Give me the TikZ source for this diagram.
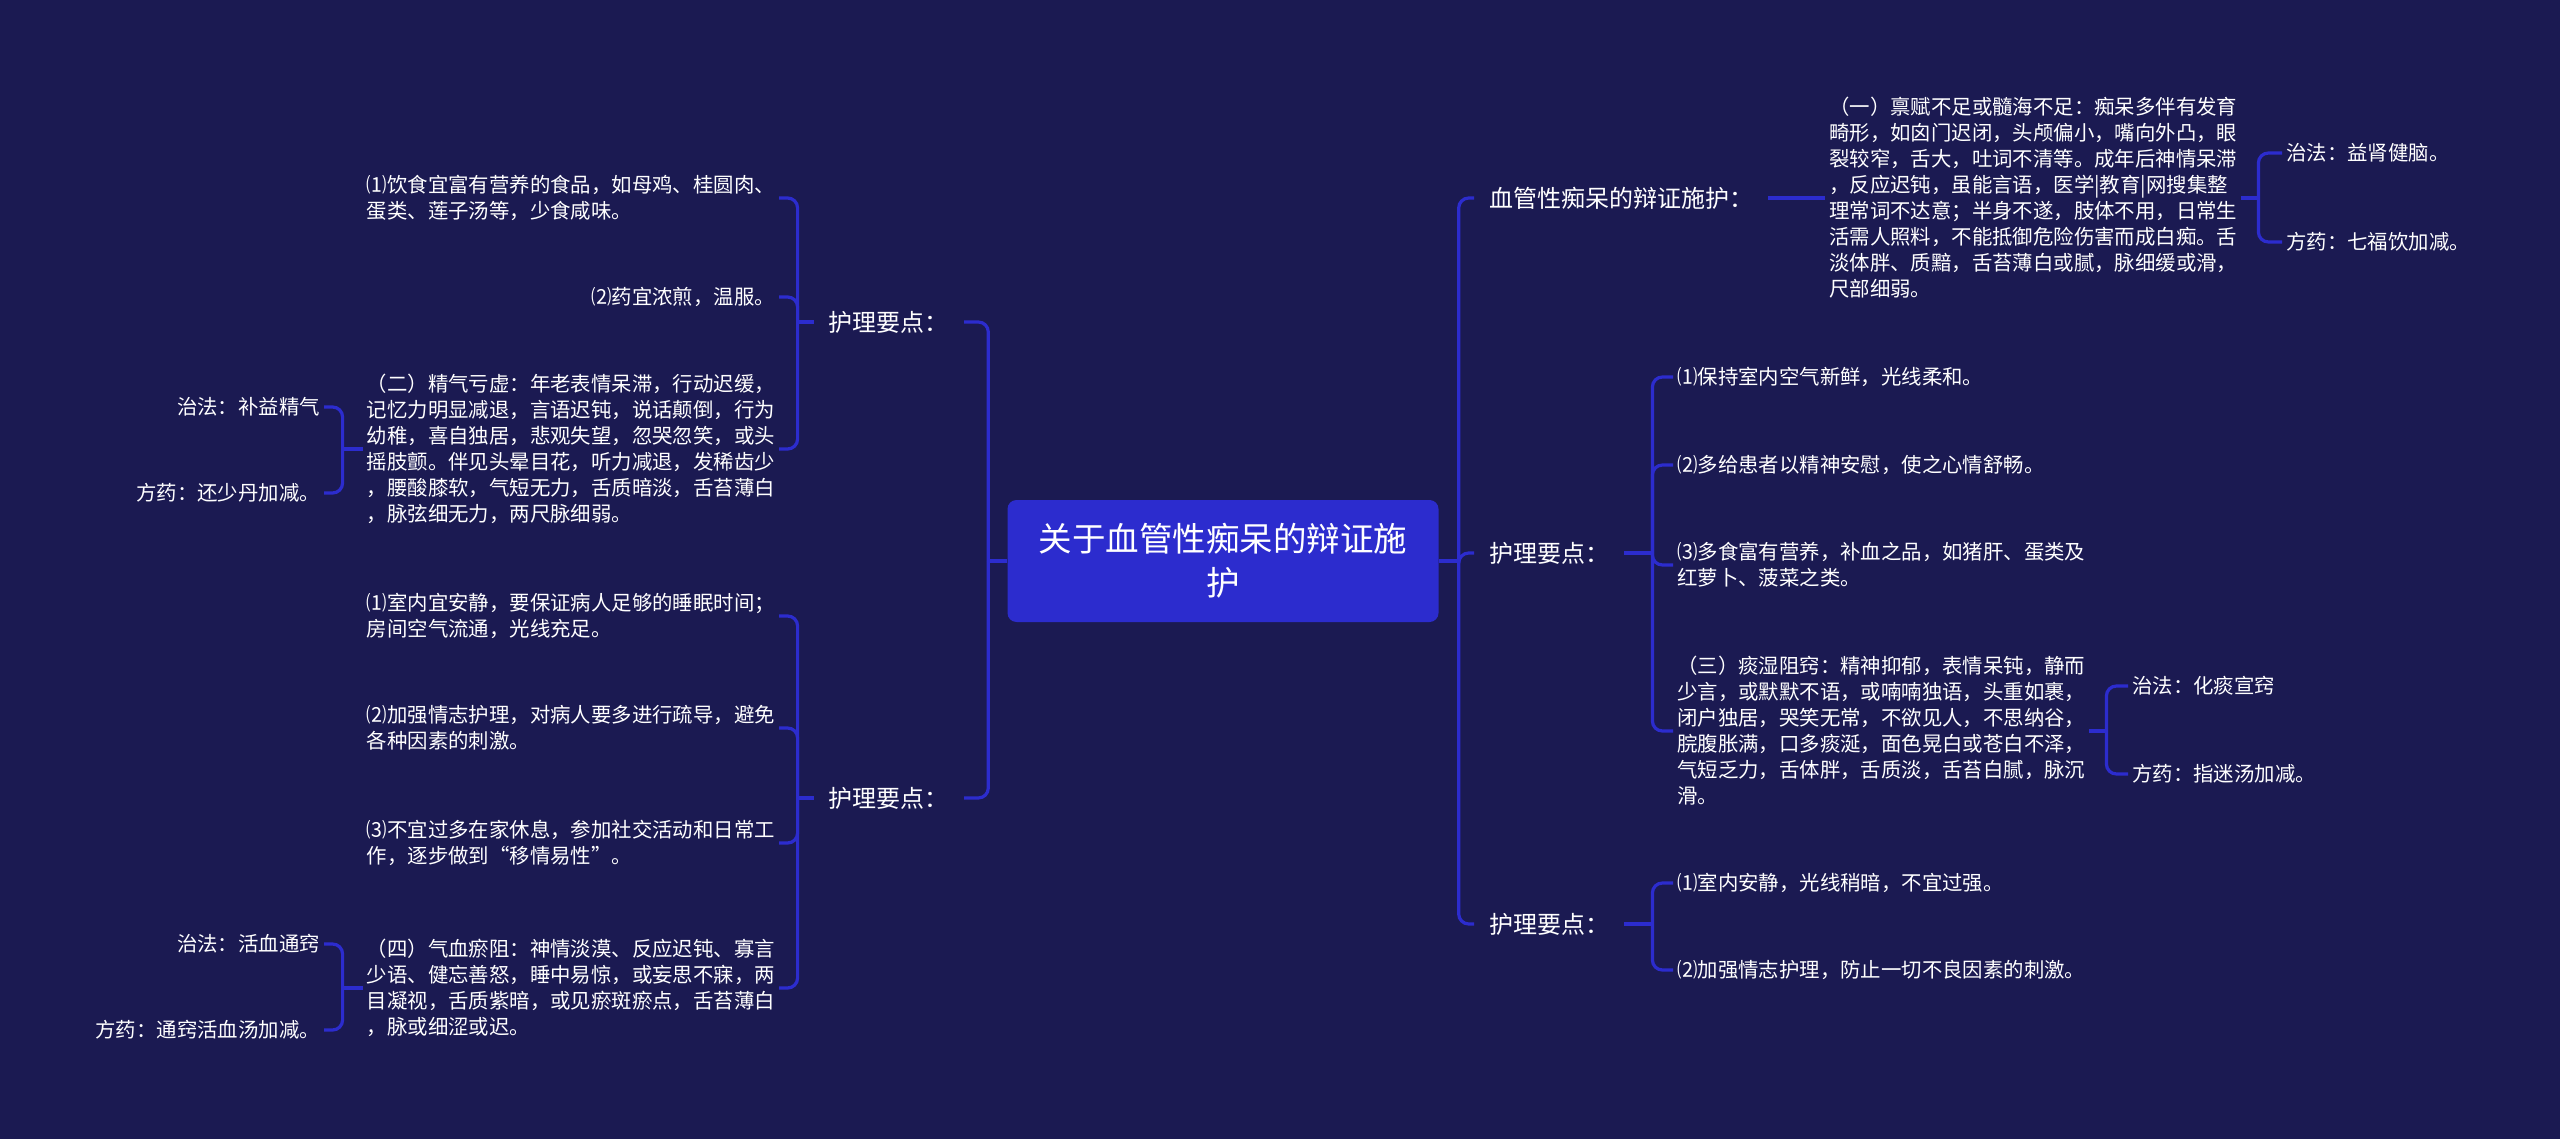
\documentclass[tikz,border=0pt]{standalone}
\usepackage{fontspec}
\newfontfamily\cjk{Noto Sans CJK SC}
\usepackage{tikz}
\usetikzlibrary{positioning}
\definecolor{bgnavy}{RGB}{27,26,82}
\definecolor{mapblue}{RGB}{44,44,206}
\tikzset{
  rootbox/.style={fill=mapblue, rounded corners=9pt, text=white, align=center, minimum width=431pt, minimum height=122pt, font=\cjk\fontsize{33.5}{44}\selectfont},
  branch/.style={text=white, inner xsep=15pt, font=\cjk\fontsize{24}{30}\selectfont},
  leaf/.style={text=white, align=left, inner sep=4pt, font=\cjk\fontsize{20.4}{26}\selectfont},
  link/.style={draw=mapblue, line width=3.2pt, rounded corners=10pt}
}
\begin{document}
\begin{tikzpicture}[x=1pt, y=-1pt]
    \fill[bgnavy] (0,0) rectangle (2560,1139);
    \useasboundingbox (0,0) rectangle (2560,1139);

    \node[rootbox] (root) at (1223,561) {关于血管性痴呆的辩证施\\护};

    % right half
    \node[branch, anchor=west] (r1) at (1474,198) {血管性痴呆的辩证施护：};
    \node[leaf, anchor=west] (type1) at (1825,198) {（一）禀赋不足或髓海不足：痴呆多伴有发育\\畸形，如囟门迟闭，头颅偏小，嘴向外凸，眼\\裂较窄，舌大，吐词不清等。成年后神情呆滞\\，反应迟钝，虽能言语，医学|教育|网搜集整\\理常词不达意；半身不遂，肢体不用，日常生\\活需人照料，不能抵御危险伤害而成白痴。舌\\淡体胖、质黯，舌苔薄白或腻，脉细缓或滑，\\尺部细弱。};
    \node[leaf, anchor=west] (zf1) at (2282,153) {治法：益肾健脑。};
    \node[leaf, anchor=west] (fy1) at (2282,242) {方药：七福饮加减。};

    \node[branch, anchor=west] (r2) at (1474,553) {护理要点：};
    \node[leaf, anchor=west] (c1) at (1673,377) {⑴保持室内空气新鲜，光线柔和。};
    \node[leaf, anchor=west] (c2) at (1673,465) {⑵多给患者以精神安慰，使之心情舒畅。};
    \node[leaf, anchor=west] (c3) at (1673,565) {⑶多食富有营养，补血之品，如猪肝、蛋类及\\红萝卜、菠菜之类。};
    \node[leaf, anchor=west] (type3) at (1673,731) {（三）痰湿阻窍：精神抑郁，表情呆钝，静而\\少言，或默默不语，或喃喃独语，头重如裹，\\闭户独居，哭笑无常，不欲见人，不思纳谷，\\脘腹胀满，口多痰涎，面色晃白或苍白不泽，\\气短乏力，舌体胖，舌质淡，舌苔白腻，脉沉\\滑。};
    \node[leaf, anchor=west] (zf3) at (2128,686) {治法：化痰宣窍};
    \node[leaf, anchor=west] (fy3) at (2128,774) {方药：指迷汤加减。};

    \node[branch, anchor=west] (r3) at (1474,924) {护理要点：};
    \node[leaf, anchor=west] (d1) at (1673,883) {⑴室内安静，光线稍暗，不宜过强。};
    \node[leaf, anchor=west] (d2) at (1673,970) {⑵加强情志护理，防止一切不良因素的刺激。};

    % left half
    \node[branch, anchor=east] (l1) at (964,322) {护理要点：};
    \node[leaf, anchor=east] (a1) at (779,198) {⑴饮食宜富有营养的食品，如母鸡、桂圆肉、\\蛋类、莲子汤等，少食咸味。};
    \node[leaf, anchor=east] (a2) at (779,297) {⑵药宜浓煎，温服。};
    \node[leaf, anchor=east] (type2) at (779,449) {（二）精气亏虚：年老表情呆滞，行动迟缓，\\记忆力明显减退，言语迟钝，说话颠倒，行为\\幼稚，喜自独居，悲观失望，忽哭忽笑，或头\\摇肢颤。伴见头晕目花，听力减退，发稀齿少\\，腰酸膝软，气短无力，舌质暗淡，舌苔薄白\\，脉弦细无力，两尺脉细弱。};
    \node[leaf, anchor=east] (zf2) at (324,407) {治法：补益精气};
    \node[leaf, anchor=east] (fy2) at (324,493) {方药：还少丹加减。};

    \node[branch, anchor=east] (l2) at (964,798) {护理要点：};
    \node[leaf, anchor=east] (b1) at (779,616) {⑴室内宜安静，要保证病人足够的睡眠时间；\\房间空气流通，光线充足。};
    \node[leaf, anchor=east] (b2) at (779,728) {⑵加强情志护理，对病人要多进行疏导，避免\\各种因素的刺激。};
    \node[leaf, anchor=east] (b3) at (779,843) {⑶不宜过多在家休息，参加社交活动和日常工\\作，逐步做到“移情易性”。};
    \node[leaf, anchor=east] (type4) at (779,988) {（四）气血瘀阻：神情淡漠、反应迟钝、寡言\\少语、健忘善怒，睡中易惊，或妄思不寐，两\\目凝视，舌质紫暗，或见瘀斑瘀点，舌苔薄白\\，脉或细涩或迟。};
    \node[leaf, anchor=east] (zf4) at (324,944) {治法：活血通窍};
    \node[leaf, anchor=east] (fy4) at (324,1030) {方药：通窍活血汤加减。};

    % junctions
    \coordinate (rt) at ([xshift=20pt]root.east);
    \coordinate (lt) at ([xshift=-19pt]root.west);
    \coordinate (k1) at ([xshift=17pt]type1.east);
    \coordinate (k2) at ([xshift=28pt]r2.east);
    \coordinate (k3) at ([xshift=17pt]type3.east);
    \coordinate (k4) at ([xshift=28pt]r3.east);
    \coordinate (k5) at ([xshift=-16pt]l1.west);
    \coordinate (k6) at ([xshift=-20pt]type2.west);
    \coordinate (k7) at ([xshift=-16pt]l2.west);
    \coordinate (k8) at ([xshift=-20pt]type4.west);

    \draw[link] (root.east) -- (rt);
    \draw[link] (rt) |- (r1.west);
    \draw[link] (rt) |- (r2.west);
    \draw[link] (rt) |- (r3.west);
    \draw[link] (r1.east) -- (type1.west);
    \draw[link] (type1.east) -- (k1);
    \draw[link] (k1) |- (zf1.west);
    \draw[link] (k1) |- (fy1.west);
    \draw[link] (r2.east) -- (k2);
    \draw[link] (k2) |- (c1.west);
    \draw[link] (k2) |- (c2.west);
    \draw[link] (k2) |- (c3.west);
    \draw[link] (k2) |- (type3.west);
    \draw[link] (type3.east) -- (k3);
    \draw[link] (k3) |- (zf3.west);
    \draw[link] (k3) |- (fy3.west);
    \draw[link] (r3.east) -- (k4);
    \draw[link] (k4) |- (d1.west);
    \draw[link] (k4) |- (d2.west);

    \draw[link] (root.west) -- (lt);
    \draw[link] (lt) |- (l1.east);
    \draw[link] (lt) |- (l2.east);
    \draw[link] (l1.west) -- (k5);
    \draw[link] (k5) |- (a1.east);
    \draw[link] (k5) |- (a2.east);
    \draw[link] (k5) |- (type2.east);
    \draw[link] (type2.west) -- (k6);
    \draw[link] (k6) |- (zf2.east);
    \draw[link] (k6) |- (fy2.east);
    \draw[link] (l2.west) -- (k7);
    \draw[link] (k7) |- (b1.east);
    \draw[link] (k7) |- (b2.east);
    \draw[link] (k7) |- (b3.east);
    \draw[link] (k7) |- (type4.east);
    \draw[link] (type4.west) -- (k8);
    \draw[link] (k8) |- (zf4.east);
    \draw[link] (k8) |- (fy4.east);
\end{tikzpicture}
\end{document}
